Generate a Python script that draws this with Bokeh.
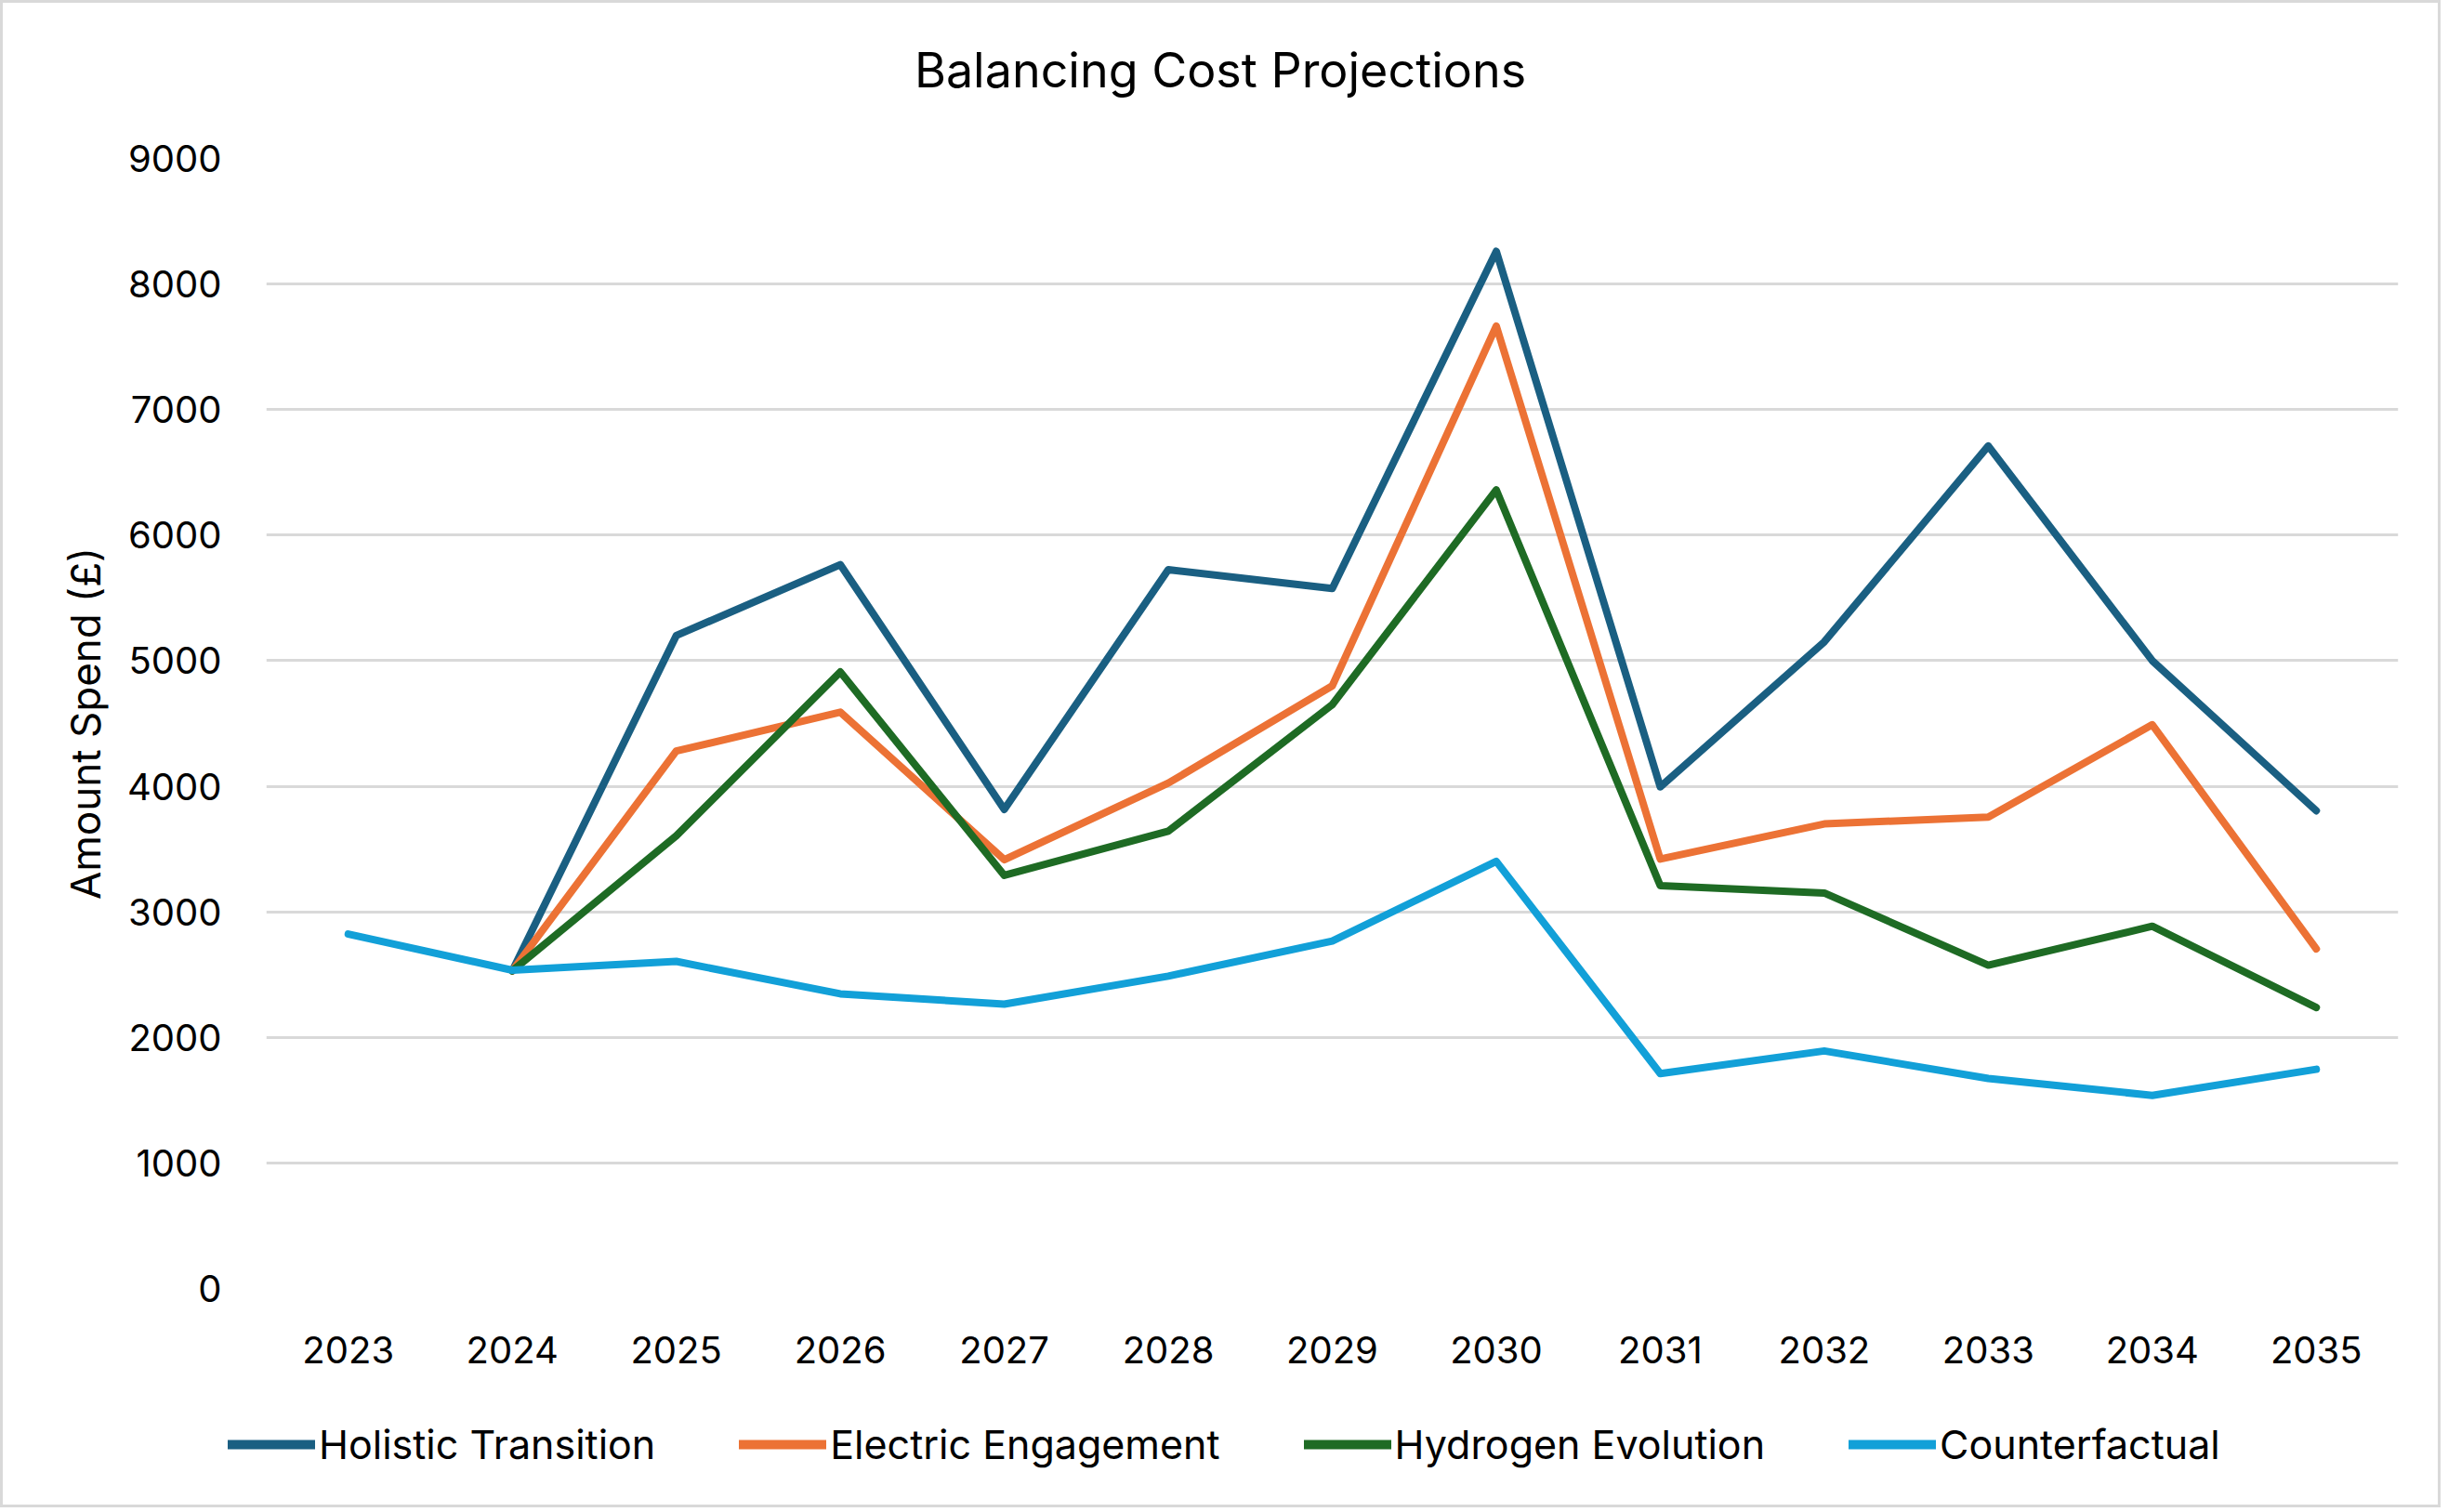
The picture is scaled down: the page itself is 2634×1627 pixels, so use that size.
from bokeh.plotting import figure
from bokeh.models import Div, FixedTicker, Legend, LegendItem, Range1d
from bokeh.embed import file_html
from bokeh.resources import INLINE

years = ["2023", "2024", "2025", "2026", "2027", "2028", "2029",
         "2030", "2031", "2032", "2033", "2034", "2035"]
scenario_years = years[1:]

holistic = [2530, 5200, 5765, 3815, 5725, 5575, 8260, 3995, 5150, 6710, 5000, 3805]
electric = [2530, 4280, 4590, 3415, 4025, 4800, 7665, 3420, 3700, 3755, 4490, 2705]
hydrogen = [2530, 3605, 4910, 3290, 3642, 4650, 6360, 3208, 3150, 2575, 2885, 2238]
counterfactual = [2823, 2535, 2605, 2347, 2265, 2488, 2767, 3402, 1712, 1892, 1673, 1538, 1746]

series_names = ["Holistic Transition", "Electric Engagement", "Hydrogen Evolution", "Counterfactual"]
series_colors = ["#1A5F82", "#EC7235", "#1E6B24", "#12A0D8"]

y_ticks = [0, 1000, 2000, 3000, 4000, 5000, 6000, 7000, 8000, 9000]

FONT = "Inter"
W = 2626
BORDER = "3px solid #D9D9D9"

# title strip
header = Div(text="Balancing Cost Projections", width=W, height=110, margin=0,
             styles={"font-family": FONT, "font-size": "52px", "line-height": "146px",
                     "text-align": "center", "color": "#000000", "background": "white",
                     "border-top": BORDER, "border-left": BORDER, "border-right": BORDER})

p = figure(x_range=years, y_range=Range1d(0, 9000),
           width=W, height=1380, output_backend="svg", toolbar_location=None,
           min_border_left=283, min_border_right=49, min_border_top=60, min_border_bottom=104)
p.styles = {"border-left": BORDER, "border-right": BORDER}
p.outline_line_color = None
p.background_fill_color = "white"
p.border_fill_color = "white"

# grid
p.xgrid.grid_line_color = None
p.ygrid.grid_line_color = "#D9D9D9"
p.ygrid.grid_line_width = 3
p.yaxis.ticker = FixedTicker(ticks=y_ticks)

for ax in [p.xaxis[0], p.yaxis[0]]:
    ax.axis_line_color = None
    ax.major_tick_line_color = None
    ax.minor_tick_line_color = None
    ax.major_label_text_font = FONT
    ax.major_label_text_font_size = "40px"
    ax.major_label_text_color = "#000000"

p.yaxis.major_label_standoff = 42
p.xaxis.major_label_standoff = 45
p.yaxis.axis_label = "Amount Spend (\u00a3)"
p.yaxis.axis_label_text_font = FONT
p.yaxis.axis_label_text_font_size = "44px"
p.yaxis.axis_label_text_font_style = "normal"
p.yaxis.axis_label_text_color = "#000000"
p.yaxis.axis_label_standoff = 15

lw = 8
all_series = [(scenario_years, holistic), (scenario_years, electric),
              (scenario_years, hydrogen), (years, counterfactual)]
for (xs, ys), c in zip(all_series, series_colors):
    p.line(xs, ys, line_color=c, line_width=lw, line_join="round", line_cap="round")

# legend strip underneath the chart (own plot, so it can sit left of the frame)
leg = figure(width=W, height=132, output_backend="svg", toolbar_location=None,
             x_range=Range1d(0, 1), y_range=Range1d(0, 1),
             x_axis_location=None, y_axis_location=None,
             min_border_left=0, min_border_right=0, min_border_top=0, min_border_bottom=0)
leg.styles = {"border-left": BORDER, "border-right": BORDER, "border-bottom": BORDER}
leg.outline_line_color = None
leg.grid.visible = False
items = []
for name, c in zip(series_names, series_colors):
    r = leg.line([float("nan")], [float("nan")], line_color=c, line_width=lw + 2, line_cap="round")
    items.append(LegendItem(label=name, renderers=[r]))

legend = Legend(items=items, orientation="horizontal", location=(242, 42))
legend.label_text_font = FONT
legend.label_text_font_size = "43px"
legend.label_text_color = "#000000"
legend.glyph_width = 94
legend.glyph_height = 30
legend.label_standoff = 4
legend.spacing = 90
legend.padding = 10
legend.margin = 0
legend.border_line_color = None
legend.background_fill_alpha = 0
leg.add_layout(legend)

open("out.html", "w").write(file_html([header, p, leg], INLINE))
